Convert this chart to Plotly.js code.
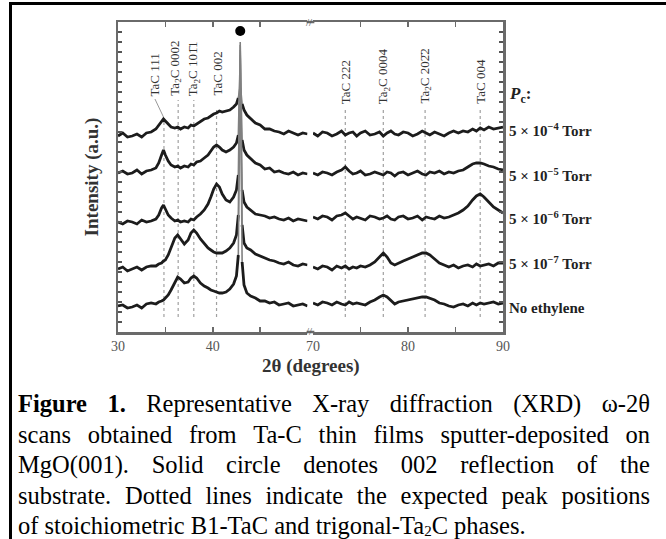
<!DOCTYPE html>
<html><head><meta charset="utf-8">
<script src="https://cdn.plot.ly/plotly-3.0.1.min.js"></script>
<style>
html,body{margin:0;padding:0;background:#fff;}
#wrap{position:relative;width:666px;height:539px;overflow:hidden;background:#fff;}
#chart{position:absolute;left:0;top:0;width:666px;height:539px;}
#frame{position:absolute;left:9px;top:2px;width:700px;height:600px;border-top:3px solid #000;border-left:3px solid #000;pointer-events:none;}
#caption{position:absolute;left:18px;top:389px;width:632px;font-family:'Liberation Serif','Times New Roman',serif;font-size:24.5px;line-height:30.5px;color:#000;}
#caption .l{display:flex;justify-content:space-between;white-space:nowrap;}
#caption .last{white-space:nowrap;line-height:22px;margin-top:4px;}
#caption .sb{font-size:15px;position:relative;top:2px;line-height:0;}
</style></head>
<body>
<div id="wrap">
<div id="chart"></div>
<div id="frame"></div>
<div id="caption">
<div class="l"><span><b>Figure</b></span><span><b>1.</b></span><span>Representative</span><span>X-ray</span><span>diffraction</span><span>(XRD)</span><span>ω-2θ</span></div>
<div class="l"><span>scans</span><span>obtained</span><span>from</span><span>Ta-C</span><span>thin</span><span>films</span><span>sputter-deposited</span><span>on</span></div>
<div class="l"><span>MgO(001).</span><span>Solid</span><span>circle</span><span>denotes</span><span>002</span><span>reflection</span><span>of</span><span>the</span></div>
<div class="l"><span>substrate.</span><span>Dotted</span><span>lines</span><span>indicate</span><span>the</span><span>expected</span><span>peak</span><span>positions</span></div>
<div class="last">of stoichiometric B1-TaC and trigonal-Ta<span class="sb">2</span>C phases.</div>
</div>
</div>
<script>
// ---- data ----
const seriesNames = ['5 × 10<sup>−4</sup> Torr','5 × 10<sup>−5</sup> Torr','5 × 10<sup>−6</sup> Torr','5 × 10<sup>−7</sup> Torr','No ethylene'];

const xLeft = [30,30.5,31,31.5,32,32.5,33,33.5,34,34.3,34.6,34.8,35.0,35.3,35.6,36.0,36.3,36.6,37.0,37.4,37.7,38.0,38.3,38.7,39.1,39.5,39.8,40.1,40.4,40.7,41.0,41.4,41.8,42.2,42.5,42.7,42.8,42.85,42.9,42.95,43.0,43.1,43.3,43.6,44.0,44.5,45.0,45.5,46,46.5,47,47.5,48,48.5,49,49.5,50];
const xRight = [70,70.5,71,71.5,72,72.5,73,73.4,73.8,74.2,74.6,75,75.5,76,76.5,77,77.4,77.8,78.2,78.6,79,79.5,80,80.5,81,81.5,81.9,82.3,82.8,83.3,83.8,84.3,84.8,85.3,85.8,86.3,86.8,87.2,87.6,88,88.5,89,89.5,90];

const p4Left = [196,199,195,196,198,195,199,200,203,207,211,213,211,208,205,204,205,203,205,204,207,206,208,210,213,214,216,218,219,221,220,221,222,225,228,234,240,244,246,243,236,228,222,217,213,209,207,203,203,201,200,198,201,199,197,199,198];
const p5Left = [159,161,158,159,162,158,161,162,164,169,177,182,177,171,167,165,166,164,166,165,168,167,170,171,174,177,181,185,187,185,182,180,182,185,189,197,227,257,277,252,217,192,182,177,173,169,167,163,164,160,161,159,158,160,157,159,158];
const p6Left = [110,108,111,110,108,112,110,111,113,117,124,127,123,117,114,111,112,110,111,110,113,112,115,118,122,128,135,143,148,145,138,132,130,135,142,157,202,247,282,242,182,142,130,125,122,118,117,116,114,115,113,112,114,111,113,112,111];
const p7Left = [63,65,61,63,65,62,65,66,66,68,69,71,72,77,84,94,97,93,88,92,99,102,99,93,88,84,82,80,79,79,79,81,84,89,97,117,182,242,287,237,162,107,89,84,82,78,76,74,72,71,69,68,70,67,66,68,67];
const noLeft = [26,27,24,25,27,24,28,29,28,30,31,32,34,37,42,50,55,53,49,50,54,56,54,49,46,44,42,41,40,39,39,40,43,48,56,77,152,232,290,222,132,70,47,39,36,34,31,31,29,30,27,28,29,26,27,28,26];

const p4Right = [199,196,200,199,196,198,201,197,199,200,196,199,201,197,198,200,196,199,201,198,197,200,199,196,198,201,199,197,200,198,196,199,201,199,201,200,203,201,204,202,205,203,204,205];
const p5Right = [159,157,160,159,157,160,162,165,161,158,159,161,157,158,160,158,157,160,159,156,159,160,157,159,161,158,157,160,159,161,158,160,159,161,162,165,168,169,169,168,166,165,163,162];
const p6Right = [115,113,116,115,112,116,117,119,116,113,115,114,112,116,115,113,114,116,113,112,115,116,113,114,116,112,115,114,113,116,114,115,117,119,122,126,132,136,138,135,130,125,122,119];
const p7Right = [65,63,66,65,62,66,64,66,63,65,64,66,65,67,70,75,79,75,69,67,69,71,73,75,77,79,79,77,73,69,67,65,67,64,66,67,65,68,66,67,68,66,69,69];
const noRight = [29,27,30,29,27,30,28,27,30,28,29,28,27,30,32,35,37,35,31,28,30,31,32,33,34,35,35,34,32,29,28,26,25,27,28,26,29,27,29,28,29,30,28,29];

const leftSeries = [p4Left,p5Left,p6Left,p7Left,noLeft];
const rightSeries = [p4Right,p5Right,p6Right,p7Right,noRight];

const peakLabelsL = ['TaC 111','Ta<sub>2</sub>C 0002','Ta<sub>2</sub>C 101\u03041','TaC 002'];
const peakPosL = [34.85,36.35,38.0,40.4];
const peakTopL = [214,232,232,224];
const peakLabelsR = ['TaC 222','Ta<sub>2</sub>C 0004','Ta<sub>2</sub>C 202\u03042','TaC 004'];
const peakPosR = [73.4,77.4,81.8,87.6];
const peakTopR = [224,224,224,224];
const peakBottom = 15;

const substrateX = [42.9];
const substrateY = [301];

const ticksLeft = [30,40];
const ticksRight = [70,80,90];

// ---- build ----
const SERIF = "'Liberation Serif','Times New Roman',serif";
const traces = [];
const lineStyle = {color:'#1c1c1c', width:2.8};
const peakStyle = {color:'#808080', width:1.6};

peakPosL.forEach((p,i)=>traces.push({x:[p,p],y:[peakBottom,peakTopL[i]],xaxis:'x',yaxis:'y',mode:'lines',line:{color:'#a0a0a0',width:1.2,dash:'dot'},hoverinfo:'skip'}));
peakPosR.forEach((p,i)=>traces.push({x:[p,p],y:[peakBottom,peakTopR[i]],xaxis:'x2',yaxis:'y2',mode:'lines',line:{color:'#a0a0a0',width:1.2,dash:'dot'},hoverinfo:'skip'}));

// split each left scan into the broad part and the narrow substrate peak (drawn lighter, as in the figure)
const iA = xLeft.indexOf(42.7), iB = xLeft.indexOf(43.1);
leftSeries.forEach((s,i)=>{
  traces.push({x:xLeft.slice(0,iA+1),y:s.slice(0,iA+1),xaxis:'x',yaxis:'y',mode:'lines',name:seriesNames[i],line:lineStyle});
  traces.push({x:xLeft.slice(iA,iB+1),y:s.slice(iA,iB+1),xaxis:'x',yaxis:'y',mode:'lines',name:seriesNames[i],line:peakStyle});
  traces.push({x:xLeft.slice(iB),y:s.slice(iB),xaxis:'x',yaxis:'y',mode:'lines',name:seriesNames[i],line:lineStyle});
});
rightSeries.forEach((s,i)=>traces.push({x:xRight,y:s,xaxis:'x2',yaxis:'y2',mode:'lines',name:seriesNames[i],line:lineStyle}));

traces.push({x:substrateX,y:substrateY,xaxis:'x',yaxis:'y',mode:'markers',marker:{color:'#000',size:10},cliponaxis:false,name:'MgO 002'});

const axCommon = {showline:true,linecolor:'#6a6a6a',linewidth:2.5,mirror:'ticks',ticks:'inside',ticklen:5,tickwidth:1.5,tickcolor:'#6a6a6a',showgrid:false,zeroline:false,
  minor:{dtick:5,ticks:'inside',ticklen:5,tickwidth:1.5,tickcolor:'#6a6a6a',showgrid:false},
  tickfont:{family:SERIF,size:14,color:'#555'}};
const yCommon = {range:[0,310],showline:true,linecolor:'#6a6a6a',linewidth:2.5,ticks:'inside',dtick:10,tick0:0,ticklen:4,tickwidth:1.5,tickcolor:'#555',showticklabels:false,showgrid:false,zeroline:false,fixedrange:true};

const annotations = [];
peakLabelsL.forEach((t,i)=>annotations.push({x:peakPosL[i],y:234,xref:'x',yref:'y',text:t,textangle:-90,showarrow:false,xanchor:'center',yanchor:'bottom',xshift:[-9,-3,0,0][i],font:{family:SERIF,size:13,color:'#333'}}));
peakLabelsR.forEach((t,i)=>annotations.push({x:peakPosR[i],y:226,xref:'x2',yref:'y2',text:t,textangle:-90,showarrow:false,xanchor:'center',yanchor:'bottom',font:{family:SERIF,size:13,color:'#333'}}));

const labelY = [0.6516,0.5065,0.3677,0.2226,0.0774];
seriesNames.forEach((t,i)=>annotations.push({x:1.0104,y:labelY[i],xref:'paper',yref:'paper',text:'<b>'+t+'</b>',showarrow:false,xanchor:'left',yanchor:'middle',font:{family:SERIF,size:15,color:'#222'}}));
annotations.push({x:1.0104,y:0.7645,xref:'paper',yref:'paper',text:'<b><i>P</i><sub>c</sub>:</b>',showarrow:false,xanchor:'left',yanchor:'middle',font:{family:SERIF,size:17,color:'#222'}});

annotations.push({x:0.501,y:-0.11,xref:'paper',yref:'paper',text:'<b>2θ (degrees)</b>',showarrow:false,xanchor:'center',yanchor:'middle',font:{family:SERIF,size:19,color:'#333'}});
annotations.push({x:0.4975,y:1,xref:'paper',yref:'paper',text:'//',showarrow:false,xanchor:'center',yanchor:'middle',font:{family:SERIF,size:11,color:'#555'}});
annotations.push({x:0.4975,y:0.003,xref:'paper',yref:'paper',text:'//',showarrow:false,xanchor:'center',yanchor:'middle',font:{family:SERIF,size:11,color:'#555'}});

const shapes = [
  {type:'line',xref:'paper',yref:'paper',x0:0.49,x1:0.51,y0:0,y1:0,line:{color:'#6a6a6a',width:2.5}},
  {type:'line',xref:'paper',yref:'paper',x0:0.49,x1:0.51,y0:1,y1:1,line:{color:'#6a6a6a',width:2.5}},
  {type:'line',xref:'x',yref:'y',x0:33.9,y0:233,x1:34.8,y1:215,line:{color:'#999',width:1}}
];

const layout = {
  width:666,height:539,margin:{l:118,r:163,t:22,b:207,pad:0},
  paper_bgcolor:'rgba(0,0,0,0)',plot_bgcolor:'#fff',showlegend:false,
  xaxis:Object.assign({},axCommon,{domain:[0,0.4922],range:[30,50],anchor:'y',tickvals:ticksLeft}),
  xaxis2:Object.assign({},axCommon,{domain:[0.5065,1],range:[70,90],anchor:'y2',tickvals:ticksRight}),
  yaxis:Object.assign({},yCommon,{anchor:'x',side:'left',title:{text:'<b>Intensity (a.u.)</b>',font:{family:SERIF,size:19,color:'#333'},standoff:12}}),
  yaxis2:Object.assign({},yCommon,{anchor:'x2',side:'right'}),
  annotations:annotations,shapes:shapes
};
Plotly.newPlot('chart',traces,layout,{displayModeBar:false,staticPlot:true});
</script>
</body></html>
